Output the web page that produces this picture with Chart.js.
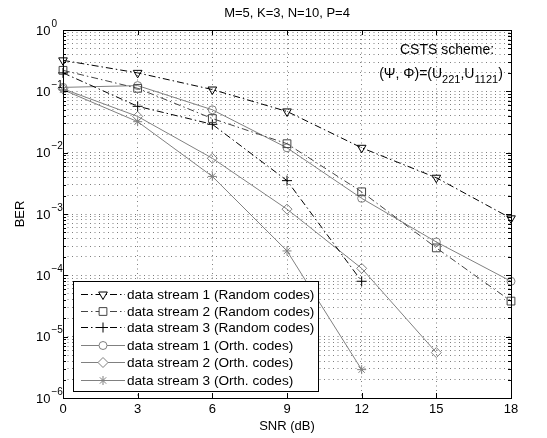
<!DOCTYPE html>
<html>
<head>
<meta charset="utf-8">
<script src="https://cdn.jsdelivr.net/npm/chart.js@4.4.1/dist/chart.umd.min.js"></script>
<style>
  html, body { margin: 0; padding: 0; background: #fff; }
</style>
</head>
<body>
<canvas id="ber" width="547" height="438"></canvas>
<script>
// SNR points (dB)
const snr = [0, 3, 6, 9, 12, 15, 18];

// BER values
const randStream1 = [0.32, 0.2, 0.107, 0.047, 0.012, 0.0039, 0.00085];
const randStream2 = [0.22, 0.112, 0.036, 0.014, 0.0023, 0.00028, 0.000038];
const randStream3 = [0.2, 0.057, 0.029, 0.0035, 0.00008];
const orthStream1 = [0.116, 0.124, 0.05, 0.012, 0.0018, 0.00035, 0.00008];
const orthStream2 = [0.11, 0.039, 0.0081, 0.0012, 0.00013, 0.0000055];
const orthStream3 = [0.106, 0.032, 0.0041, 0.00025, 0.0000029];

const seriesLabels = [
  'data stream 1 (Random codes)',
  'data stream 2 (Random codes)',
  'data stream 3 (Random codes)',
  'data stream 1 (Orth. codes)',
  'data stream 2 (Orth. codes)',
  'data stream 3 (Orth. codes)'
];

const xTicks = [0, 3, 6, 9, 12, 15, 18];
const yExponents = [0, -1, -2, -3, -4, -5, -6];

const FONT = '"Liberation Sans", Arial, Helvetica, sans-serif';
const GRAY = '#808080';
const DASHDOT = [7, 3, 1.5, 3];

const pts = vals => vals.map((v, i) => ({ x: snr[i], y: v }));

function ds(label, vals, color, dash, style, radius, rotation) {
  return {
    label,
    data: pts(vals),
    borderColor: color,
    borderWidth: 1,
    borderDash: dash,
    pointStyle: style,
    pointRadius: radius,
    pointRotation: rotation || 0,
    pointBorderColor: color,
    pointBackgroundColor: 'rgba(0,0,0,0)',
    pointBorderWidth: 1,
    tension: 0,
    fill: false,
    clip: false
  };
}

const datasets = [
  ds(seriesLabels[0], randStream1, '#000', DASHDOT, 'triangle', 5, 180),
  ds(seriesLabels[1], randStream2, '#444', DASHDOT, 'rect', 5.5),
  ds(seriesLabels[2], randStream3, '#000', DASHDOT, 'cross', 5),
  ds(seriesLabels[3], orthStream1, GRAY, [], 'circle', 4),
  ds(seriesLabels[4], orthStream2, GRAY, [], 'rectRot', 5),
  ds(seriesLabels[5], orthStream3, GRAY, [], 'star', 4.5)
];

// axes box, inner ticks, labels, annotation and the MATLAB-style legend
const decor = {
  id: 'decor',
  afterDatasetsDraw(chart) {
    const { ctx, chartArea: a, scales: { x, y } } = chart;
    ctx.save();
    ctx.strokeStyle = '#000';
    ctx.lineWidth = 1;
    ctx.setLineDash([]);

    // inner tick marks
    ctx.beginPath();
    for (const t of xTicks) {
      const px = Math.round(x.getPixelForValue(t)) + 0.5;
      ctx.moveTo(px, a.bottom); ctx.lineTo(px, a.bottom - 5);
      ctx.moveTo(px, a.top); ctx.lineTo(px, a.top + 5);
    }
    for (const tk of y.ticks) {
      const py = Math.round(y.getPixelForValue(tk.value)) + 0.5;
      const major = Math.abs(Math.log10(tk.value) - Math.round(Math.log10(tk.value))) < 1e-6;
      const len = major ? 5 : 3;
      ctx.moveTo(a.left, py); ctx.lineTo(a.left + len, py);
      ctx.moveTo(a.right, py); ctx.lineTo(a.right - len, py);
    }
    ctx.stroke();

    // box
    ctx.strokeRect(Math.round(a.left) + 0.5, Math.round(a.top) + 0.5,
      Math.round(a.right - a.left), Math.round(a.bottom - a.top));

    ctx.fillStyle = '#000';
    // y tick labels 10^n
    for (const e of yExponents) {
      const py = y.getPixelForValue(Math.pow(10, e));
      ctx.font = '13px ' + FONT;
      ctx.textAlign = 'left';
      ctx.textBaseline = 'middle';
      ctx.fillText('10', 36, py + 1);
      const w = ctx.measureText('10').width;
      ctx.font = '10px ' + FONT;
      ctx.fillText(e === 0 ? '0' : '\u2212' + (-e), 36 + w + 1, py - 6);
    }

    // titles
    ctx.font = '13px ' + FONT;
    ctx.textAlign = 'center';
    ctx.textBaseline = 'middle';
    ctx.fillText('M=5, K=3, N=10, P=4', (a.left + a.right) / 2, 13);
    ctx.fillText('SNR (dB)', (a.left + a.right) / 2, 426);
    ctx.save();
    ctx.translate(20, (a.top + a.bottom) / 2);
    ctx.rotate(-Math.PI / 2);
    ctx.fillText('BER', 0, 0);
    ctx.restore();

    // annotation
    ctx.font = '14px ' + FONT;
    ctx.fillText('CSTS scheme:', 447, 50);
    const parts = [['(\u03A8, \u03A6)=(U', 0], ['221', 1], [',U', 0], ['1121', 1], [')', 0]];
    let total = 0;
    for (const [s, sub] of parts) {
      ctx.font = (sub ? '11px ' : '14px ') + FONT;
      total += ctx.measureText(s).width;
    }
    let cx = 441 - total / 2;
    ctx.textAlign = 'left';
    for (const [s, sub] of parts) {
      ctx.font = (sub ? '11px ' : '14px ') + FONT;
      ctx.fillText(s, cx, sub ? 80 : 74);
      cx += ctx.measureText(s).width;
    }

    // legend
    const lx = 73, ly = 281, lw = 245, lh = 110;
    ctx.fillStyle = '#fff';
    ctx.fillRect(lx, ly, lw, lh);
    ctx.strokeStyle = '#000';
    ctx.strokeRect(lx + 0.5, ly + 0.5, lw, lh);
    const rows = [294, 311, 327, 345, 362, 380];
    chart.data.datasets.forEach((d, i) => {
      const ry = rows[i] + 0.5;
      ctx.strokeStyle = d.borderColor;
      ctx.setLineDash(d.borderDash);
      ctx.beginPath();
      ctx.moveTo(81, ry); ctx.lineTo(125, ry);
      ctx.stroke();
      ctx.setLineDash([]);
      ctx.fillStyle = '#fff';
      Chart.helpers.drawPoint(ctx, {
        pointStyle: d.pointStyle,
        radius: d.pointRadius,
        rotation: d.pointRotation,
        borderWidth: 1
      }, 103, ry);
      ctx.fillStyle = '#000';
      ctx.font = '13.6px ' + FONT;
      ctx.textAlign = 'left';
      ctx.textBaseline = 'middle';
      ctx.fillText(d.label, 127, rows[i] + 1);
    });
    ctx.restore();
  }
};

new Chart(document.getElementById('ber'), {
  type: 'line',
  data: { datasets },
  options: {
    responsive: false,
    animation: false,
    devicePixelRatio: 1,
    layout: { padding: { top: 30, right: 36, left: 0, bottom: 0 } },
    plugins: { legend: { display: false }, tooltip: { enabled: false } },
    scales: {
      x: {
        type: 'linear',
        min: 0,
        max: 18,
        afterBuildTicks: s => { s.ticks = xTicks.map(v => ({ value: v })); },
        afterFit: s => { s.height = 40; },
        ticks: { color: '#000', font: { family: FONT, size: 13 }, padding: 4, maxRotation: 0 },
        grid: { color: 'rgba(0,0,0,0.5)', drawTicks: false },
        border: { display: false, dash: [1, 3.5] }
      },
      y: {
        type: 'logarithmic',
        min: 1e-6,
        max: 1,
        afterBuildTicks: s => {
          const t = [];
          for (let e = -6; e < 0; e++) {
            for (let m = 1; m <= 9; m++) t.push({ value: m * Math.pow(10, e) });
          }
          t.push({ value: 1 });
          s.ticks = t;
        },
        afterFit: s => { s.width = 63; },
        ticks: { display: false },
        grid: { color: 'rgba(0,0,0,0.5)', drawTicks: false },
        border: { display: false, dash: [1, 3.5] }
      }
    }
  },
  plugins: [decor]
});
</script>
</body>
</html>
